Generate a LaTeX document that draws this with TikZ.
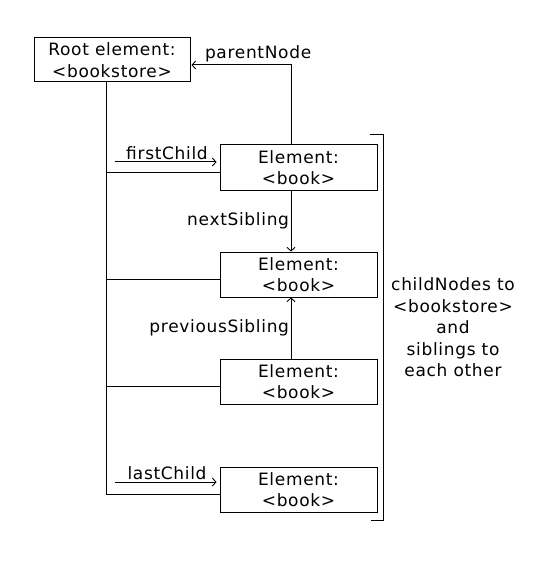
\documentclass[tikz,border=0pt]{standalone}
\usepackage{fontspec}
\setmainfont{DejaVu Sans}[LetterSpace=4]
\usetikzlibrary{arrows.meta,positioning,calc}

\begin{document}
\begin{tikzpicture}[
  x=1pt,y=-1pt,
  font=\fontsize{17}{21.5}\selectfont,
  line width=1pt,
  elem/.style={draw,align=center,inner sep=0pt,
               minimum width=157pt,minimum height=45pt},
  arr/.style={-{Straight Barb[length=3.5pt,width=8pt,line width=0.9pt]}},
  lbl/.style={inner sep=1.5pt},
  node distance=61pt
]
\useasboundingbox (0,0) rectangle (557,572);
\node[elem,minimum width=156pt,minimum height=44pt] (root) at (112,60) {Root element:\\<bookstore>};
\node[elem] (book1) at (298.5,167.5) {Element:\\<book>};
\node[elem,below=of book1] (book2) {Element:\\<book>};
\node[elem,below=of book2] (book3) {Element:\\<book>};
\node[elem,below=62pt of book3] (book4) {Element:\\<book>};
% trunk from the root down to the children
\coordinate (trunk) at ($(root.south)+(-6,0)$);
\draw (trunk) |- ($(book4.west)+(0,4.5)$);
\foreach \b in {book1,book2,book3}
  \draw ($(\b.west)+(0,4.5)$) -| (trunk);
% first / last child
\coordinate (fc) at ($(book1.west)+(-105,-5.5)$);
\draw[arr,shorten >=3pt] (fc) -- (fc -| book1.west) node[lbl,above,midway] {firstChild};
\coordinate (lc) at ($(book4.west)+(-105,-7.5)$);
\draw[arr,shorten >=3pt] (lc) -- (lc -| book4.west) node[lbl,above,midway] {lastChild};
% parent
\draw[arr,shorten >=1pt] ($(book1.north)+(-7.5,0)$) |- ($(root.east)+(0,5)$);
\node[lbl,anchor=south west] (pnl) at ($(root.east)+(12.5,4.5)$) {parentNode};
% siblings
\draw[arr] ($(book1.south)+(-7.5,0)$) -- ($(book2.north)+(-7.5,0)$) node[lbl,midway,left] {nextSibling};
\draw[arr] ($(book3.north)+(-7.5,0)$) -- ($(book2.south)+(-7.5,0)$) node[lbl,midway,left] {previousSibling};
% bracket
\coordinate (brtop) at ($(book1.north east)+(-8,-10)$);
\coordinate (brbot) at ($(book4.south east)+(-7,8)$);
\draw (brtop) -- ++(14,0) |- (brbot);
\node[align=center] (note) at ($(brtop)!.5!(brbot)+(83,0)$)
  {childNodes to\\<bookstore>\\and\\siblings to\\each other};
\end{tikzpicture}
\end{document}
